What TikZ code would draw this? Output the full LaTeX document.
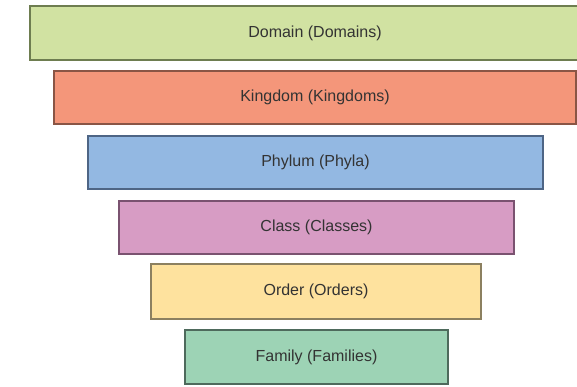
\documentclass[tikz,border=0pt]{standalone}
\usepackage{fontspec}
\setmainfont{Liberation Sans}
\definecolor{domainfill}{HTML}{D1E2A2}
\definecolor{domaindraw}{HTML}{6E7D50}
\definecolor{kingfill}{HTML}{F4967A}
\definecolor{kingdraw}{HTML}{8A5545}
\definecolor{phylfill}{HTML}{93B8E2}
\definecolor{phyldraw}{HTML}{4E6585}
\definecolor{classfill}{HTML}{D79CC4}
\definecolor{classdraw}{HTML}{7A5270}
\definecolor{orderfill}{HTML}{FEE29E}
\definecolor{orderdraw}{HTML}{8C8060}
\definecolor{famfill}{HTML}{9DD3B5}
\definecolor{famdraw}{HTML}{4E6A5C}
\definecolor{txt}{HTML}{333333}
\tikzset{
  rank/.style={draw, line width=1.1pt, inner sep=0pt, text=txt,
    font=\fontsize{16}{19}\selectfont, anchor=center}
}
\begin{document}
\begin{tikzpicture}[x=1pt,y=1pt]
\useasboundingbox (0,0) rectangle (577,387);
\clip (0,0) rectangle (577,387);
\fill[white] (0,0) rectangle (577,387);
\node[rank, fill=domainfill, draw=domaindraw, minimum width=570pt, minimum height=54pt] (domain) at (315,354) {Domain (Domains)};
\node[rank, fill=kingfill, draw=kingdraw, minimum width=522pt, minimum height=53pt] (kingdom) at (315,289.5) {Kingdom (Kingdoms)};
\node[rank, fill=phylfill, draw=phyldraw, minimum width=455pt, minimum height=53pt] (phylum) at (315.5,224.5) {Phylum (Phyla)};
\node[rank, fill=classfill, draw=classdraw, minimum width=395pt, minimum height=53pt] (class) at (316.5,159.5) {Class (Classes)};
\node[rank, fill=orderfill, draw=orderdraw, minimum width=330pt, minimum height=55pt] (order) at (316,95.5) {Order (Orders)};
\node[rank, fill=famfill, draw=famdraw, minimum width=263pt, minimum height=54pt] (family) at (316.5,30) {Family (Families)};
\end{tikzpicture}
\end{document}
